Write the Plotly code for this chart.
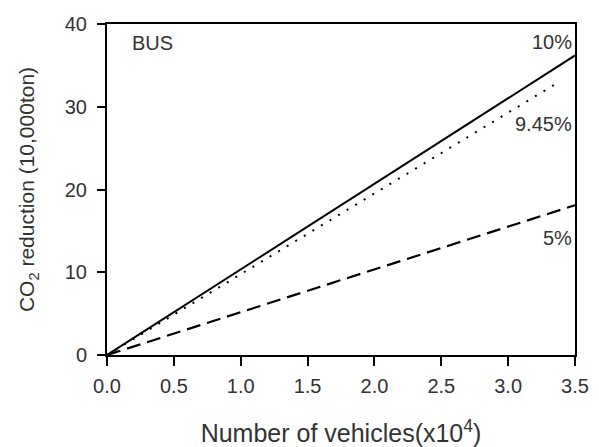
import plotly.graph_objects as go

# Data
x_full = [0.0, 3.5]
y_10pct = [0.0, 36.2]
y_5pct = [0.0, 18.1]
x_945 = [0.0, 3.36]
y_945pct = [0.0, 32.8]

x_ticks = [0.0, 0.5, 1.0, 1.5, 2.0, 2.5, 3.0, 3.5]
x_ticklabels = ["0.0", "0.5", "1.0", "1.5", "2.0", "2.5", "3.0", "3.5"]
y_ticks = [0, 10, 20, 30, 40]

FONT = "Liberation Sans, Arial, sans-serif"
TXT = "#333333"

fig = go.Figure()
fig.add_trace(go.Scatter(x=x_full, y=y_10pct, mode="lines",
                         line=dict(color="black", width=2), showlegend=False))
fig.add_trace(go.Scatter(x=x_945, y=y_945pct, mode="lines",
                         line=dict(color="black", width=2, dash="2px,8px"), showlegend=False))
fig.add_trace(go.Scatter(x=x_full, y=y_5pct, mode="lines",
                         line=dict(color="black", width=2.2, dash="14px,7px"), showlegend=False))

annos = [
    dict(x=3.49, y=37.8, text="10%", xanchor="right"),
    dict(x=3.49, y=27.9, text="9.45%", xanchor="right"),
    dict(x=3.49, y=14.2, text="5%", xanchor="right"),
    dict(x=0.17, y=37.7, text="BUS", xanchor="left"),
]
for a in annos:
    fig.add_annotation(x=a["x"], y=a["y"], text=a["text"], xanchor=a["xanchor"],
                       yanchor="middle", showarrow=False,
                       font=dict(family=FONT, size=20, color=TXT))

fig.update_layout(
    width=599, height=447,
    margin=dict(l=107, r=24, t=24, b=92),
    plot_bgcolor="white", paper_bgcolor="white",
    font=dict(family=FONT, size=20, color=TXT),
)
fig.update_xaxes(
    range=[0, 3.5], tickvals=x_ticks, ticktext=x_ticklabels, automargin=False,
    showgrid=False, zeroline=False, showline=True, linecolor="black", linewidth=2,
    mirror=True, ticks="outside", ticklen=9, tickwidth=2, tickcolor="black",
    ticklabelstandoff=3,
    tickfont=dict(family=FONT, size=20, color=TXT),
    title=dict(text="Number of vehicles(x10<sup>4</sup>)", standoff=29,
               font=dict(family=FONT, size=25, color=TXT)),
)
fig.update_yaxes(
    range=[0, 40], tickvals=y_ticks, automargin=False,
    showgrid=False, zeroline=False, showline=True, linecolor="black", linewidth=2,
    mirror=True, ticks="outside", ticklen=8, tickwidth=2, tickcolor="black",
    ticklabelstandoff=6,
    tickfont=dict(family=FONT, size=20, color=TXT),
    title=dict(text="CO<sub>2</sub> reduction (10,000ton)", standoff=24,
               font=dict(family=FONT, size=21, color=TXT)),
)

fig.write_html("out.html")
